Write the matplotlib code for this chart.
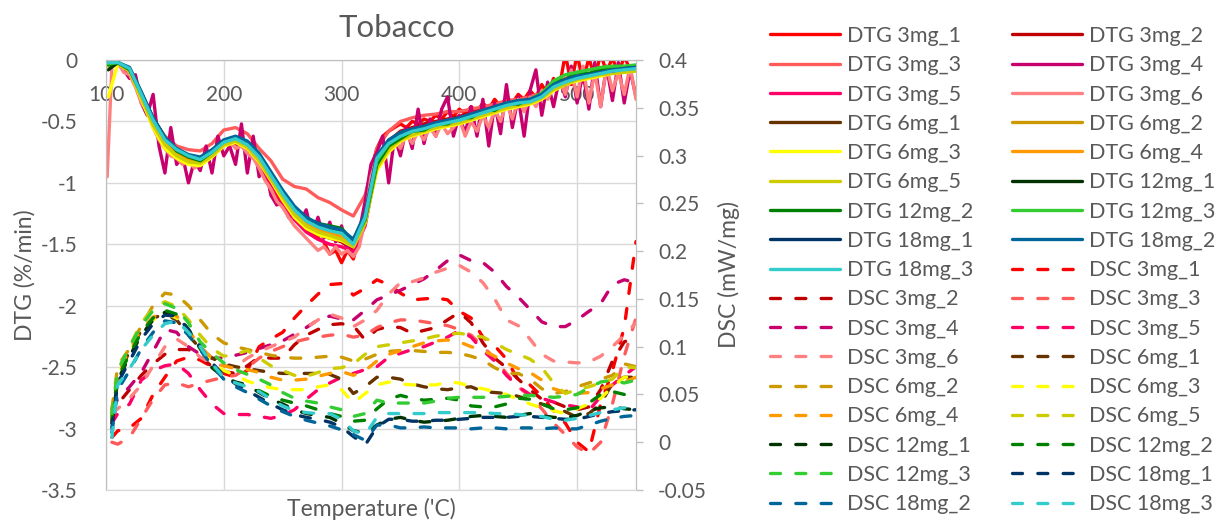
import numpy as np
import matplotlib.pyplot as plt

plt.rcParams['font.family'] = ['Lato', 'DejaVu Sans']
plt.rcParams['axes.unicode_minus'] = False

# temperature grids ('C)
temp_10 = [102] + list(range(110, 551, 10))
temp_5 = list(range(105, 551, 5))
temp_dsc = [105] + list(range(110, 551, 10))

names = ['3mg_1', '3mg_2', '3mg_3', '3mg_4', '3mg_5', '3mg_6',
         '6mg_1', '6mg_2', '6mg_3', '6mg_4', '6mg_5',
         '12mg_1', '12mg_2', '12mg_3', '18mg_1', '18mg_2', '18mg_3']
colors = ['#FF0000', '#C00000', '#FF5B5B', '#C8006E', '#FF0066', '#FF8080',
          '#663300', '#CC9900', '#FFFF00', '#FF9900', '#CCCC00',
          '#003300', '#008000', '#33CC33', '#003366', '#006699', '#33CCCC']

# ---- DTG (%/min) ----
dtg_3mg_1 = [-0.02, -0.03, -0.05, -0.10, -0.18, -0.30, -0.40, -0.50, -0.58, -0.66,
             -0.72, -0.76, -0.80, -0.82, -0.83, -0.82, -0.78, -0.74, -0.70, -0.68,
             -0.66, -0.68, -0.70, -0.73, -0.78, -0.85, -0.93, -1.02, -1.10, -1.18,
             -1.24, -1.29, -1.33, -1.37, -1.41, -1.45, -1.48, -1.58, -1.55, -1.65,
             -1.55, -1.62, -1.45, -1.20, -0.90, -0.72, -0.62, -0.58, -0.55, -0.52,
             -0.55, -0.50, -0.52, -0.48, -0.50, -0.45, -0.48, -0.42, -0.46, -0.40,
             -0.44, -0.38, -0.42, -0.35, -0.40, -0.32, -0.38, -0.30, -0.35, -0.28,
             -0.32, -0.25, -0.30, -0.20, -0.28, -0.15, -0.22, 0.05, -0.20, 0.05,
             -0.18, 0.02, -0.15, 0.05, -0.10, 0.02, -0.12, 0.03, -0.08, -0.05]
dtg_3mg_2 = [-0.02, -0.03, -0.08, -0.30, -0.50, -0.66, -0.75, -0.80, -0.82, -0.76,
             -0.68, -0.64, -0.69, -0.80, -0.96, -1.12, -1.26, -1.36, -1.42, -1.45,
             -1.48, -1.55, -1.32, -0.82, -0.66, -0.58, -0.55, -0.52, -0.50, -0.48,
             -0.46, -0.43, -0.40, -0.38, -0.35, -0.33, -0.31, -0.27, -0.20, -0.16,
             -0.13, -0.11, -0.09, -0.08, -0.07, -0.06]
dtg_3mg_3 = [-0.02, -0.03, -0.10, -0.30, -0.48, -0.62, -0.70, -0.73, -0.74, -0.68,
             -0.57, -0.55, -0.60, -0.72, -0.82, -0.97, -1.03, -1.05, -1.12, -1.16,
             -1.22, -1.27, -1.10, -0.72, -0.58, -0.50, -0.47, -0.45, -0.44, -0.42,
             -0.42, -0.40, -0.38, -0.36, -0.33, -0.32, -0.30, -0.26, -0.20, -0.15,
             -0.13, -0.11, -0.10, -0.08, -0.07, -0.07]
dtg_3mg_4 = [-0.05, -0.02, -0.08, -0.15, -0.12, -0.35, -0.45, -0.28, -0.70, -0.92,
             -0.55, -0.85, -0.78, -1.00, -0.82, -0.90, -0.70, -0.92, -0.62, -0.78,
             -0.70, -0.85, -0.52, -0.92, -0.62, -0.95, -0.85, -1.10, -1.18, -1.15,
             -1.28, -1.25, -1.32, -1.22, -1.42, -1.28, -1.45, -1.32, -1.48, -1.35,
             -1.55, -1.45, -1.40, -1.15, -0.85, -0.75, -0.62, -1.00, -0.62, -0.78,
             -0.55, -0.72, -0.40, -0.68, -0.48, -0.62, -0.40, -0.30, -0.62, -0.45,
             -0.60, -0.38, -0.62, -0.32, -0.70, -0.35, -0.60, -0.20, -0.55, -0.30,
             -0.62, -0.25, -0.08, -0.45, -0.18, -0.38, -0.15, -0.30, -0.05, -0.35,
             -0.10, -0.40, -0.02, -0.38, -0.05, -0.33, -0.02, -0.35, -0.08, -0.30]
dtg_3mg_5 = [-0.03, -0.04, -0.10, -0.32, -0.53, -0.70, -0.80, -0.84, -0.84, -0.77,
             -0.69, -0.66, -0.72, -0.84, -1.00, -1.16, -1.30, -1.40, -1.46, -1.50,
             -1.52, -1.56, -1.35, -0.85, -0.68, -0.60, -0.56, -0.54, -0.51, -0.49,
             -0.47, -0.44, -0.41, -0.38, -0.36, -0.34, -0.32, -0.28, -0.21, -0.17,
             -0.14, -0.12, -0.10, -0.09, -0.08, -0.07]
dtg_3mg_6 = [-0.95,
             -0.05, -0.02, -0.10, -0.12, -0.22, -0.35, -0.42, -0.55, -0.65, -0.72,
             -0.78, -0.80, -0.85, -0.82, -0.88, -0.85, -0.80, -0.78, -0.72, -0.70,
             -0.66, -0.72, -0.70, -0.76, -0.80, -0.88, -0.98, -1.05, -1.15, -1.20,
             -1.28, -1.35, -1.40, -1.45, -1.50, -1.55, -1.52, -1.58, -1.52, -1.58,
             -1.55, -1.60, -1.52, -1.30, -0.95, -0.80, -0.75, -0.70, -0.65, -0.72,
             -0.60, -0.68, -0.58, -0.65, -0.55, -0.62, -0.52, -0.60, -0.55, -0.48,
             -0.62, -0.50, -0.58, -0.45, -0.55, -0.40, -0.50, -0.35, -0.48, -0.32,
             -0.42, -0.30, -0.38, -0.25, -0.32, -0.22, -0.15, -0.28, -0.08, -0.30,
             -0.05, -0.35, -0.10, -0.38, -0.05, -0.25, -0.10, -0.28, -0.05, -0.32]
dtg_6mg_1 = [-0.03, -0.02, -0.08, -0.29, -0.50, -0.66, -0.75, -0.80, -0.82, -0.76,
             -0.68, -0.65, -0.70, -0.80, -0.95, -1.10, -1.23, -1.32, -1.37, -1.40,
             -1.42, -1.50, -1.30, -0.82, -0.69, -0.62, -0.58, -0.56, -0.53, -0.51,
             -0.49, -0.46, -0.43, -0.40, -0.37, -0.35, -0.33, -0.29, -0.21, -0.17,
             -0.14, -0.12, -0.10, -0.09, -0.08, -0.07]
dtg_6mg_2 = [-0.03, -0.03, -0.09, -0.31, -0.52, -0.68, -0.77, -0.82, -0.84, -0.78,
             -0.69, -0.66, -0.71, -0.82, -0.97, -1.12, -1.25, -1.35, -1.40, -1.43,
             -1.45, -1.52, -1.32, -0.85, -0.71, -0.63, -0.59, -0.57, -0.54, -0.52,
             -0.50, -0.47, -0.44, -0.41, -0.38, -0.36, -0.34, -0.30, -0.22, -0.18,
             -0.15, -0.13, -0.11, -0.10, -0.09, -0.08]
dtg_6mg_3 = [-0.30, -0.03, -0.09, -0.32, -0.55, -0.72, -0.80, -0.85, -0.86, -0.79,
             -0.70, -0.67, -0.72, -0.83, -0.98, -1.14, -1.28, -1.37, -1.42, -1.45,
             -1.47, -1.52, -1.32, -0.90, -0.75, -0.66, -0.62, -0.59, -0.56, -0.54,
             -0.52, -0.49, -0.46, -0.43, -0.40, -0.38, -0.36, -0.32, -0.25, -0.20,
             -0.17, -0.15, -0.13, -0.11, -0.10, -0.09]
dtg_6mg_4 = [-0.02, -0.03, -0.08, -0.30, -0.51, -0.67, -0.76, -0.81, -0.83, -0.77,
             -0.68, -0.65, -0.70, -0.81, -0.96, -1.11, -1.24, -1.33, -1.38, -1.41,
             -1.43, -1.51, -1.31, -0.83, -0.70, -0.63, -0.59, -0.56, -0.54, -0.52,
             -0.49, -0.46, -0.43, -0.40, -0.38, -0.36, -0.34, -0.30, -0.22, -0.18,
             -0.15, -0.13, -0.11, -0.10, -0.08, -0.08]
dtg_6mg_5 = [-0.05, -0.03, -0.09, -0.31, -0.53, -0.69, -0.78, -0.83, -0.84, -0.78,
             -0.69, -0.66, -0.71, -0.82, -0.97, -1.12, -1.26, -1.35, -1.40, -1.43,
             -1.46, -1.52, -1.33, -0.88, -0.73, -0.65, -0.61, -0.58, -0.55, -0.53,
             -0.51, -0.48, -0.45, -0.42, -0.39, -0.37, -0.35, -0.31, -0.24, -0.20,
             -0.16, -0.14, -0.12, -0.11, -0.10, -0.09]
dtg_12mg_1 = [-0.08, -0.02, -0.07, -0.27, -0.48, -0.64, -0.73, -0.78, -0.80, -0.74,
              -0.66, -0.63, -0.68, -0.78, -0.93, -1.08, -1.21, -1.30, -1.34, -1.37,
              -1.39, -1.48, -1.28, -0.80, -0.67, -0.60, -0.57, -0.55, -0.52, -0.50,
              -0.48, -0.45, -0.42, -0.39, -0.36, -0.34, -0.33, -0.29, -0.21, -0.17,
              -0.14, -0.12, -0.10, -0.08, -0.07, -0.06]
dtg_12mg_2 = [-0.04, -0.02, -0.08, -0.27, -0.47, -0.63, -0.74, -0.79, -0.82, -0.75,
              -0.66, -0.63, -0.68, -0.78, -0.93, -1.08, -1.21, -1.30, -1.33, -1.35,
              -1.37, -1.48, -1.30, -0.85, -0.70, -0.64, -0.58, -0.57, -0.52, -0.52,
              -0.47, -0.47, -0.41, -0.41, -0.35, -0.36, -0.32, -0.29, -0.18, -0.16,
              -0.10, -0.11, -0.08, -0.06, -0.06, -0.05]
dtg_12mg_3 = [-0.03, -0.02, -0.07, -0.27, -0.48, -0.64, -0.73, -0.78, -0.80, -0.74,
              -0.66, -0.63, -0.68, -0.78, -0.93, -1.08, -1.21, -1.30, -1.35, -1.38,
              -1.40, -1.49, -1.29, -0.82, -0.68, -0.62, -0.58, -0.55, -0.53, -0.51,
              -0.48, -0.45, -0.42, -0.40, -0.36, -0.34, -0.32, -0.27, -0.17, -0.12,
              -0.10, -0.08, -0.06, -0.05, -0.05, -0.04]
dtg_18mg_1 = [-0.01, -0.02, -0.07, -0.27, -0.48, -0.64, -0.73, -0.78, -0.80, -0.74,
              -0.66, -0.63, -0.67, -0.77, -0.92, -1.07, -1.20, -1.29, -1.34, -1.37,
              -1.39, -1.47, -1.27, -0.79, -0.66, -0.60, -0.57, -0.55, -0.52, -0.50,
              -0.48, -0.45, -0.42, -0.39, -0.36, -0.34, -0.33, -0.29, -0.21, -0.17,
              -0.14, -0.12, -0.10, -0.09, -0.07, -0.06]
dtg_18mg_2 = [-0.01, -0.02, -0.06, -0.26, -0.47, -0.63, -0.72, -0.77, -0.79, -0.73,
              -0.65, -0.62, -0.66, -0.76, -0.91, -1.06, -1.19, -1.28, -1.33, -1.36,
              -1.38, -1.46, -1.25, -0.78, -0.65, -0.59, -0.56, -0.54, -0.51, -0.49,
              -0.47, -0.44, -0.41, -0.38, -0.35, -0.33, -0.32, -0.28, -0.20, -0.16,
              -0.13, -0.12, -0.10, -0.08, -0.07, -0.06]
dtg_18mg_3 = [-0.02, -0.02, -0.07, -0.28, -0.49, -0.65, -0.73, -0.78, -0.81, -0.75,
              -0.67, -0.64, -0.69, -0.79, -0.94, -1.09, -1.22, -1.31, -1.36, -1.39,
              -1.41, -1.50, -1.28, -0.80, -0.68, -0.62, -0.58, -0.56, -0.53, -0.51,
              -0.49, -0.46, -0.43, -0.40, -0.37, -0.35, -0.34, -0.30, -0.22, -0.18,
              -0.15, -0.13, -0.11, -0.09, -0.08, -0.07]

# ---- DSC (mW/mg) ----
dsc_3mg_1 = [0.005, 0.012, 0.015, 0.025, 0.050, 0.068, 0.085, 0.089, 0.086, 0.079,
             0.072, 0.068, 0.075, 0.100, 0.108, 0.115, 0.130, 0.143, 0.155, 0.165,
             0.166, 0.154, 0.161, 0.170, 0.165, 0.156, 0.149, 0.150, 0.151, 0.149,
             0.137, 0.130, 0.110, 0.101, 0.087, 0.065, 0.060, 0.048, 0.033, 0.020,
             0.000, -0.010, 0.040, 0.075, 0.120, 0.210]
dsc_3mg_2 = [0.023, 0.040, 0.055, 0.070, 0.082, 0.092, 0.097, 0.097, 0.090, 0.079,
             0.074, 0.072, 0.080, 0.089, 0.088, 0.088, 0.102, 0.112, 0.118, 0.123,
             0.124, 0.122, 0.107, 0.118, 0.121, 0.120, 0.114, 0.117, 0.120, 0.128,
             0.136, 0.125, 0.104, 0.088, 0.078, 0.066, 0.055, 0.045, 0.042, 0.037,
             0.034, 0.037, 0.055, 0.085, 0.105, 0.110]
dsc_3mg_3 = [0.000, -0.002, 0.005, 0.025, 0.045, 0.060, 0.062, 0.058, 0.062, 0.065,
             0.068, 0.070, 0.078, 0.088, 0.095, 0.100, 0.105, 0.108, 0.110, 0.112,
             0.113, 0.110, 0.112, 0.120, 0.125, 0.128, 0.128, 0.126, 0.124, 0.122,
             0.118, 0.112, 0.100, 0.088, 0.072, 0.058, 0.048, 0.035, 0.020, 0.008,
             -0.005, -0.012, 0.000, 0.040, 0.090, 0.130]
dsc_3mg_4 = [0.035, 0.045, 0.058, 0.073, 0.095, 0.118, 0.115, 0.100, 0.092, 0.088,
             0.088, 0.091, 0.094, 0.098, 0.102, 0.106, 0.113, 0.120, 0.128, 0.132,
             0.129, 0.128, 0.138, 0.149, 0.154, 0.159, 0.165, 0.171, 0.180, 0.190,
             0.196, 0.190, 0.188, 0.178, 0.163, 0.152, 0.139, 0.126, 0.121, 0.121,
             0.128, 0.137, 0.145, 0.165, 0.170, 0.167]
dsc_3mg_5 = [0.020, 0.030, 0.040, 0.065, 0.075, 0.080, 0.082, 0.072, 0.055, 0.040,
             0.030, 0.029, 0.029, 0.027, 0.025, 0.028, 0.034, 0.045, 0.055, 0.062,
             0.068, 0.072, 0.076, 0.079, 0.089, 0.093, 0.097, 0.100, 0.105, 0.110,
             0.117, 0.110, 0.096, 0.085, 0.070, 0.058, 0.050, 0.046, 0.042, 0.039,
             0.037, 0.033, 0.048, 0.060, 0.070, 0.079]
dsc_3mg_6 = [0.030, 0.035, 0.046, 0.060, 0.080, 0.100, 0.108, 0.100, 0.089, 0.082,
             0.080, 0.079, 0.088, 0.095, 0.100, 0.105, 0.110, 0.120, 0.128, 0.134,
             0.130, 0.121, 0.128, 0.138, 0.155, 0.167, 0.168, 0.172, 0.178, 0.182,
             0.185, 0.178, 0.167, 0.150, 0.128, 0.122, 0.108, 0.092, 0.085, 0.084,
             0.083, 0.084, 0.090, 0.100, 0.112, 0.125]
dsc_6mg_1 = [0.030, 0.070, 0.095, 0.117, 0.130, 0.134, 0.128, 0.112, 0.098, 0.088,
             0.082, 0.079, 0.077, 0.075, 0.073, 0.072, 0.072, 0.072, 0.072, 0.071,
             0.066, 0.051, 0.058, 0.068, 0.068, 0.066, 0.061, 0.058, 0.056, 0.055,
             0.057, 0.058, 0.053, 0.052, 0.051, 0.048, 0.044, 0.040, 0.036, 0.032,
             0.026, 0.030, 0.040, 0.062, 0.068, 0.068]
dsc_6mg_2 = [0.035, 0.080, 0.098, 0.122, 0.143, 0.156, 0.154, 0.143, 0.128, 0.113,
             0.104, 0.100, 0.097, 0.094, 0.091, 0.089, 0.088, 0.088, 0.089, 0.090,
             0.089, 0.085, 0.087, 0.092, 0.095, 0.096, 0.096, 0.095, 0.094, 0.094,
             0.093, 0.090, 0.086, 0.078, 0.072, 0.072, 0.066, 0.056, 0.051, 0.053,
             0.058, 0.062, 0.066, 0.070, 0.082, 0.079]
dsc_6mg_3 = [0.025, 0.070, 0.095, 0.115, 0.128, 0.135, 0.130, 0.115, 0.098, 0.085,
             0.075, 0.070, 0.064, 0.060, 0.057, 0.055, 0.055, 0.055, 0.058, 0.060,
             0.055, 0.041, 0.051, 0.060, 0.063, 0.061, 0.060, 0.060, 0.060, 0.063,
             0.062, 0.058, 0.056, 0.053, 0.050, 0.045, 0.040, 0.036, 0.033, 0.030,
             0.035, 0.040, 0.046, 0.058, 0.068, 0.068]
dsc_6mg_4 = [0.028, 0.072, 0.097, 0.118, 0.131, 0.137, 0.132, 0.117, 0.100, 0.088,
             0.080, 0.077, 0.076, 0.073, 0.068, 0.065, 0.065, 0.066, 0.069, 0.072,
             0.074, 0.070, 0.075, 0.085, 0.092, 0.096, 0.100, 0.104, 0.106, 0.107,
             0.105, 0.100, 0.096, 0.090, 0.083, 0.077, 0.073, 0.065, 0.056, 0.052,
             0.051, 0.052, 0.056, 0.060, 0.063, 0.068]
dsc_6mg_5 = [0.030, 0.075, 0.100, 0.125, 0.140, 0.147, 0.142, 0.128, 0.112, 0.098,
             0.090, 0.092, 0.096, 0.088, 0.080, 0.075, 0.070, 0.069, 0.073, 0.077,
             0.078, 0.082, 0.092, 0.100, 0.102, 0.104, 0.106, 0.108, 0.111, 0.113,
             0.114, 0.112, 0.110, 0.104, 0.097, 0.092, 0.087, 0.078, 0.062, 0.051,
             0.055, 0.058, 0.062, 0.066, 0.079, 0.078]
dsc_12mg_1 = [0.020, 0.065, 0.090, 0.112, 0.128, 0.136, 0.133, 0.118, 0.098, 0.078,
              0.068, 0.063, 0.060, 0.052, 0.045, 0.040, 0.034, 0.030, 0.028, 0.026,
              0.020, 0.012, 0.010, 0.018, 0.024, 0.026, 0.023, 0.021, 0.022, 0.023,
              0.025, 0.027, 0.028, 0.027, 0.026, 0.028, 0.030, 0.028, 0.026, 0.026,
              0.028, 0.033, 0.036, 0.037, 0.035, 0.034]
dsc_12mg_2 = [0.025, 0.068, 0.092, 0.115, 0.130, 0.138, 0.134, 0.118, 0.098, 0.080,
              0.068, 0.062, 0.058, 0.054, 0.048, 0.044, 0.041, 0.038, 0.034, 0.030,
              0.027, 0.022, 0.023, 0.035, 0.045, 0.049, 0.046, 0.044, 0.045, 0.046,
              0.044, 0.038, 0.037, 0.037, 0.040, 0.046, 0.045, 0.040, 0.035, 0.034,
              0.036, 0.041, 0.050, 0.053, 0.050, 0.047]
dsc_12mg_3 = [0.030, 0.075, 0.100, 0.122, 0.138, 0.145, 0.140, 0.125, 0.105, 0.093,
              0.083, 0.076, 0.071, 0.066, 0.060, 0.052, 0.046, 0.043, 0.041, 0.037,
              0.034, 0.027, 0.030, 0.044, 0.041, 0.041, 0.041, 0.041, 0.043, 0.046,
              0.047, 0.047, 0.047, 0.047, 0.048, 0.049, 0.049, 0.048, 0.047, 0.048,
              0.050, 0.057, 0.063, 0.065, 0.062, 0.065]
dsc_18mg_1 = [0.015, 0.062, 0.085, 0.108, 0.124, 0.133, 0.132, 0.118, 0.100, 0.083,
              0.070, 0.061, 0.054, 0.047, 0.040, 0.034, 0.029, 0.026, 0.024, 0.021,
              0.016, 0.006, -0.003, 0.016, 0.024, 0.024, 0.022, 0.022, 0.023, 0.023,
              0.024, 0.025, 0.026, 0.026, 0.026, 0.027, 0.027, 0.026, 0.025, 0.024,
              0.024, 0.027, 0.030, 0.032, 0.033, 0.034]
dsc_18mg_2 = [0.010, 0.055, 0.075, 0.098, 0.115, 0.127, 0.125, 0.112, 0.097, 0.080,
              0.066, 0.058, 0.052, 0.045, 0.038, 0.032, 0.027, 0.023, 0.020, 0.017,
              0.013, 0.008, 0.002, 0.018, 0.018, 0.015, 0.015, 0.016, 0.015, 0.015,
              0.015, 0.014, 0.015, 0.015, 0.014, 0.015, 0.015, 0.014, 0.015, 0.014,
              0.014, 0.018, 0.022, 0.025, 0.027, 0.028]
dsc_18mg_3 = [0.005, 0.060, 0.077, 0.097, 0.112, 0.124, 0.127, 0.115, 0.100, 0.082,
              0.068, 0.062, 0.058, 0.053, 0.045, 0.038, 0.033, 0.031, 0.030, 0.030,
              0.024, 0.012, 0.008, 0.026, 0.030, 0.030, 0.030, 0.030, 0.031, 0.031,
              0.031, 0.031, 0.031, 0.030, 0.030, 0.029, 0.028, 0.027, 0.024, 0.023,
              0.025, 0.028, 0.031, 0.034, 0.036, 0.037]

dtg_series = [dtg_3mg_1, dtg_3mg_2, dtg_3mg_3, dtg_3mg_4, dtg_3mg_5, dtg_3mg_6,
              dtg_6mg_1, dtg_6mg_2, dtg_6mg_3, dtg_6mg_4, dtg_6mg_5,
              dtg_12mg_1, dtg_12mg_2, dtg_12mg_3, dtg_18mg_1, dtg_18mg_2, dtg_18mg_3]
dsc_series = [dsc_3mg_1, dsc_3mg_2, dsc_3mg_3, dsc_3mg_4, dsc_3mg_5, dsc_3mg_6,
              dsc_6mg_1, dsc_6mg_2, dsc_6mg_3, dsc_6mg_4, dsc_6mg_5,
              dsc_12mg_1, dsc_12mg_2, dsc_12mg_3, dsc_18mg_1, dsc_18mg_2, dsc_18mg_3]

dtg_ticks = [0, -0.5, -1, -1.5, -2, -2.5, -3, -3.5]
dsc_ticks = [0.4, 0.35, 0.3, 0.25, 0.2, 0.15, 0.1, 0.05, 0, -0.05]
temp_ticks = [100, 200, 300, 400, 500]

text_col = '#595959'
grid_col = '#d9d9d9'
axis_col = '#bfbfbf'

fig = plt.figure(figsize=(12.17, 5.23), dpi=100)
ax = fig.add_axes([106 / 1217, 1 - 490 / 523, 530 / 1217, 430 / 523])
ax2 = ax.twinx()

handles = []
for name, col, y in zip(names, colors, dtg_series):
    if len(y) == len(temp_10):
        x = temp_10
    elif len(y) == len(temp_5):
        x = temp_5
    else:
        x = [101] + temp_5
    ln, = ax.plot(x, y, color=col, lw=2.4, solid_capstyle='round',
                  solid_joinstyle='round', label='DTG ' + name)
    handles.append(ln)

for name, col, y in zip(names, colors, dsc_series):
    ln, = ax2.plot(temp_dsc, y, color=col, lw=2.4, dashes=(3.0, 4.6),
                   dash_capstyle='round', dash_joinstyle='round', label='DSC ' + name)
    handles.append(ln)

ax.set_xlim(100, 550)
ax.set_ylim(-3.5, 0)
ax2.set_ylim(-0.05, 0.4)
ax.set_xticks(temp_ticks)
ax.set_xticklabels([str(t) for t in temp_ticks])
ax.set_yticks(dtg_ticks)
ax.set_yticklabels(['{:g}'.format(v) for v in dtg_ticks])
ax2.set_yticks(dsc_ticks)
ax2.set_yticklabels(['{:g}'.format(v) for v in dsc_ticks])

ax.grid(True, color=grid_col, lw=1)
ax.set_axisbelow(True)

ax.tick_params(axis='x', bottom=False, top=False, labelbottom=False, labeltop=True,
               pad=-36, labelsize=15, labelcolor=text_col)
ax.tick_params(axis='y', left=False, pad=17, labelsize=15, labelcolor=text_col)
ax2.tick_params(axis='y', right=True, length=5, width=1, color=axis_col, pad=11,
                labelsize=15, labelcolor=text_col)

for a in (ax, ax2):
    a.spines['top'].set_color(axis_col)
    a.spines['left'].set_color(axis_col)
    a.spines['right'].set_color(axis_col)
    a.spines['bottom'].set_color(grid_col)

ax.set_ylabel('DTG (%/min)', fontsize=16.5, color=text_col, labelpad=4)
ax2.set_ylabel('DSC (mW/mg)', fontsize=16.5, color=text_col, labelpad=8)
ax.set_xlabel("Temperature ('C)", fontsize=16.5, color=text_col, labelpad=6)

fig.text(397 / 1217, 1 - 37 / 523, 'Tobacco', ha='center', va='baseline',
         fontsize=22.5, color=text_col)

# legend is row-major in the reference, matplotlib fills column-major
order = handles[0::2] + handles[1::2]
fig.legend(order, [h.get_label() for h in order], loc='upper left',
           bbox_to_anchor=(770 / 1217, 1 - 26 / 523), ncol=2, frameon=False,
           fontsize=15.5, labelcolor=text_col, handlelength=3.25,
           handletextpad=0.33, columnspacing=1.8, labelspacing=0.43,
           borderpad=0, borderaxespad=0)

fig.savefig('out.png', dpi=100)
